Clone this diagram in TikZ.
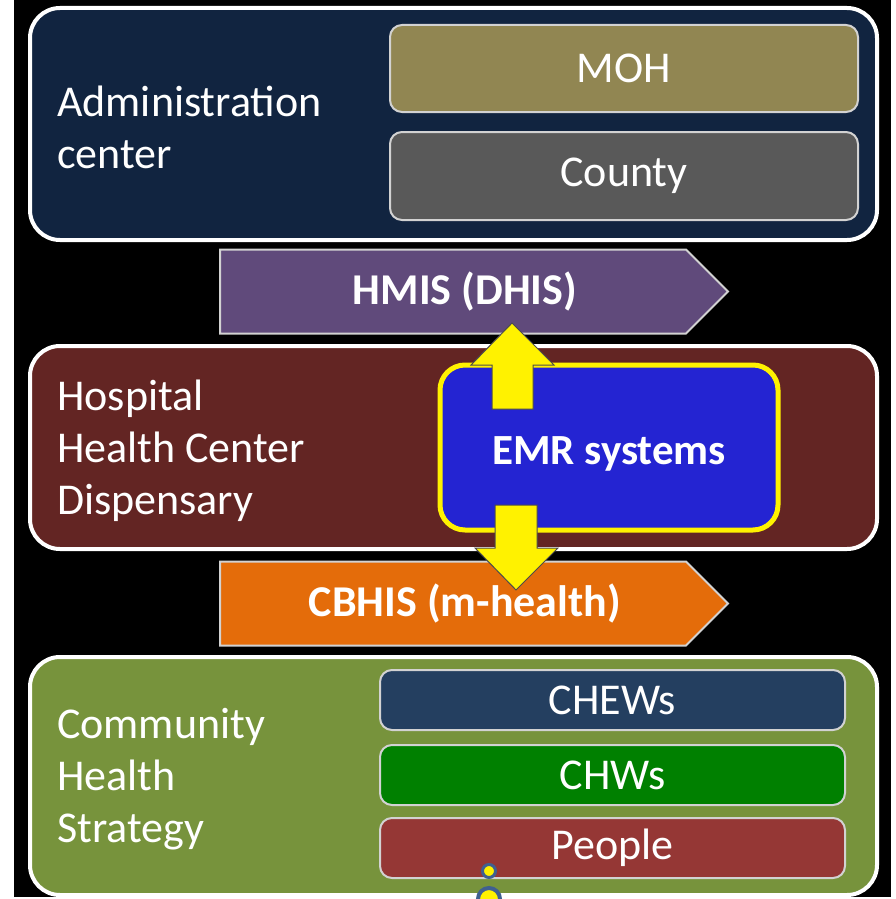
\documentclass[tikz,border=0pt]{standalone}
\usepackage{fontspec}
\setmainfont{Carlito}
\usetikzlibrary{shapes.symbols}

\definecolor{adminblue}{RGB}{17,36,64}
\definecolor{mohgold}{RGB}{145,134,82}
\definecolor{countygray}{RGB}{89,89,89}
\definecolor{hmispurple}{RGB}{96,74,123}
\definecolor{hospred}{RGB}{99,37,35}
\definecolor{emrblue}{RGB}{36,36,210}
\definecolor{cbhisorange}{RGB}{228,108,10}
\definecolor{commgreen}{RGB}{119,147,60}
\definecolor{chewblue}{RGB}{36,63,96}
\definecolor{chwgreen}{RGB}{0,128,0}
\definecolor{peoplered}{RGB}{149,55,53}
\definecolor{handleblue}{RGB}{63,96,144}

\tikzset{
  tier/.style={draw=white, line width=4pt, rounded corners=30pt, minimum width=847pt, inner sep=0pt},
  unit/.style={draw=gray!35, line width=2pt, rounded corners=12pt, text=white, inner sep=0pt,
    font=\fontsize{44}{50}\selectfont},
  flow/.style={signal, signal to=east, signal pointer angle=90, draw=gray!35, line width=2pt,
    text=white, minimum width=508pt, minimum height=84pt, inner sep=0pt,
    font=\bfseries\fontsize{44}{50}\selectfont},
  tiertext/.style={text=white, align=left, anchor=west, inner sep=0pt,
    font=\fontsize{44}{52}\selectfont},
  yarrow/.style={fill=yellow, draw=black!70, line width=1pt}
}

\begin{document}
\begin{tikzpicture}[x=1pt,y=-1pt]
	% 画布大小与黑色背景
	\useasboundingbox (0,0) rectangle (895,899);
	\fill[black] (14,0) rectangle (891,897);

	% 第一层:管理中心
	\node[tier, fill=adminblue, minimum height=232pt] (admin) at (453.5,124) {};
	\node[tiertext] (admintext) at (57,127) {Administration\\center};
	\node[unit, fill=mohgold, minimum width=468pt, minimum height=87pt] (moh) at (624,68.5) {MOH};
	\node[unit, fill=countygray, minimum width=468pt, minimum height=88pt] (county) at (624,176) {County};

	% HMIS 箭头框
	\node[flow, fill=hmispurple] (hmis) at (453,291.5) {\hspace*{24pt}HMIS (DHIS)};

	% 第二层:医院
	\node[tier, fill=hospred, minimum height=203pt] (hosp) at (453.5,447.5) {};
	\node[tiertext] (hosptext) at (57,451) {Hospital\\Health Center\\Dispensary};

	% EMR 系统
	\node[draw=yellow, line width=5pt, rounded corners=25pt, fill=emrblue, text=white,
	  minimum width=338pt, minimum height=165pt, inner sep=0pt,
	  font=\bfseries\fontsize{43}{46}\selectfont] (emr) at (609,447.5)
	  {\raisebox{-6pt}[\height][\depth]{EMR systems}};

	% CBHIS 箭头框
	\node[flow, fill=cbhisorange] (cbhis) at (453,603.5) {\hspace*{24pt}CBHIS (m-health)};

	% 第三层:社区卫生
	\node[tier, fill=commgreen, minimum height=238pt] (comm) at (453.5,776) {};
	\node[tiertext] (commtext) at (57,779) {Community\\Health\\Strategy};
	\node[unit, fill=chewblue, minimum width=465pt, minimum height=60pt] (chews) at (612.5,700) {CHEWs};
	\node[unit, fill=chwgreen, minimum width=465pt, minimum height=60pt] (chws) at (612.5,775) {CHWs};
	\node[unit, fill=peoplered, minimum width=465pt, minimum height=60pt] (people) at (612.5,848) {People};

	% 黄色双向箭头 EMR -> HMIS
	\draw[yarrow] (492,409) -- (492,365) -- (471,365) -- (512,323) -- (554,365) -- (533,365) -- (533,409) -- cycle;
	% 黄色箭头 EMR -> CBHIS
	\draw[yarrow] (495,505) -- (537,505) -- (537,548) -- (558,548) -- (516,590) -- (475,548) -- (495,548) -- cycle;

	% 选择控点
	\draw[handleblue, line width=3pt, fill=yellow] (489,871) circle (6.5pt);
	\begin{scope}
	\clip (0,0) rectangle (895,899);
	\draw[handleblue, line width=4pt, fill=yellow] (489,899) circle (11pt);
	\end{scope}
\end{tikzpicture}
\end{document}
